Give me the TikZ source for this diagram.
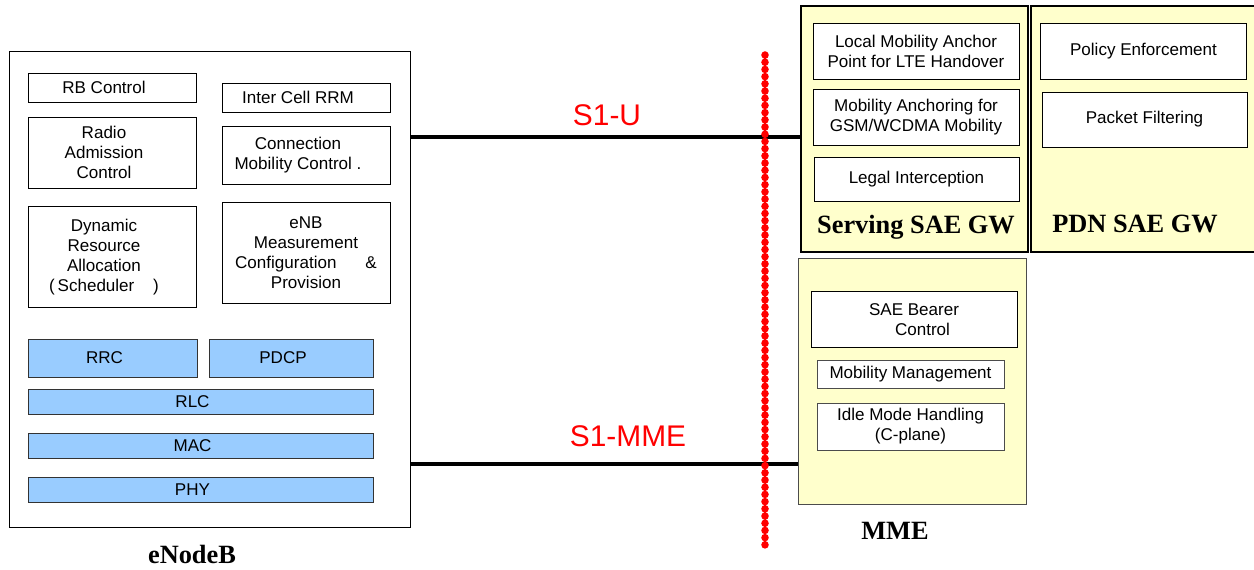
\documentclass[tikz,border=0pt]{standalone}
\usepackage{fontspec}
\setmainfont{Liberation Serif}
\setsansfont{Liberation Sans}
\usepackage{xcolor}
\usepackage{tikz}
\usetikzlibrary{positioning, calc}
\definecolor{gwyellow}{HTML}{FFFFCC}
\definecolor{layerblue}{HTML}{99CCFF}

\begin{document}
\begin{tikzpicture}[
  x=0.02cm, y=-0.02cm,
  fbox/.style ={draw, fill=white, inner sep=1pt, align=center,
                font=\sffamily\fontsize{9.7}{11.3}\selectfont},
  etext/.style={xshift=-0.16cm, inner sep=0pt, align=center,
                font=\sffamily\fontsize{9.7}{11.3}\selectfont},
  ebox/.style ={draw, fill=white, label={[etext]center:#1}},
  lbox/.style ={draw=black!80, fill=layerblue, minimum height=0.5cm, label={[etext]center:#1}},
  gw/.style   ={draw, line width=1.2pt, fill=gwyellow, minimum width=4.54cm, minimum height=4.92cm},
  title/.style={anchor=base, font=\bfseries\fontsize{15}{18}\selectfont},
  iface/.style={anchor=base, text=red, font=\sffamily\fontsize{17}{20}\selectfont},
  link/.style ={line width=1.8pt}
]
\useasboundingbox (0,0) rectangle (1254,569);

%% ---- eNodeB ----
\node[draw, fill=white, minimum width=8.02cm, minimum height=9.52cm] (ENB) at (209.5,289) {};
\node[ebox={RB Control},     minimum width=3.36cm, minimum height=0.58cm] (RB)   at (112,87.5)  {};
\node[ebox={Inter Cell RRM}, minimum width=3.36cm, minimum height=0.58cm] (ICR)  at (306,97.5)  {};
\node[ebox={Radio\\Admission\\Control},         minimum width=3.36cm, minimum height=1.42cm] (RAC) at (112,152.5) {};
\node[ebox={Connection\\Mobility Control .},    minimum width=3.36cm, minimum height=1.16cm] (CMC) at (306,155)   {};
\node[ebox={Dynamic\\Resource\\Allocation\\(\,Scheduler\hspace{1.1em})},
      minimum width=3.36cm, minimum height=2.02cm] (DRA)  at (112,257)   {};
\node[fbox, minimum width=3.36cm, minimum height=2.02cm] (MEAS) at (306,252.5)
      {eNB\\Measurement\\Configuration\hspace{1.7em}\&\\Provision};

% protocol stack
\node[lbox=RRC,  minimum width=3.38cm, minimum height=0.76cm] (RRC)  at (112.5,358) {};
\node[lbox=PDCP, minimum width=3.28cm, minimum height=0.76cm] (PDCP) at (291,358)   {};
\node[lbox=RLC, minimum width=6.9cm] (RLC) at (200.5,401.5) {};
\node[lbox=MAC, minimum width=6.9cm] (MAC) at (200.5,445.5) {};
\node[lbox=PHY, minimum width=6.9cm] (PHY) at (200.5,489.5) {};

\node[title] at (192,563) {eNodeB};

%% ---- Gateways ----
\node[gw] (SGW) at (914.5,129) {};
\node[gw, minimum width=4.54cm] (PGW) at (1144.5,129) {};

\node[fbox, minimum width=4.12cm, minimum height=1.12cm] (LMA) at (916,51)    {Local Mobility Anchor\\Point for LTE Handover};
\node[fbox, minimum width=4.12cm, minimum height=1.12cm] (MAG) at (916,117)   {Mobility Anchoring for\\GSM/WCDMA Mobility};
\node[fbox, minimum width=4.10cm, minimum height=0.88cm] (LI)  at (916.5,179) {Legal Interception};
\node[title] at (916,233) {Serving SAE GW};

\node[fbox, minimum width=4.12cm, minimum height=1.12cm] (PE) at (1143.5,51)   {Policy Enforcement};
\node[fbox, minimum width=4.10cm, minimum height=1.10cm] (PF) at (1144.5,119.5) {Packet Filtering};
\node[title] at (1135,232) {PDN SAE GW};

%% ---- MME ----
\node[draw=black!70, fill=gwyellow, minimum width=4.56cm, minimum height=4.92cm] (MME) at (912,381) {};
\node[fbox, minimum width=4.12cm, minimum height=1.12cm] (SBC) at (914,319.5)   {SAE Bearer\\\hspace{1em}Control};
\node[fbox, draw=black!70, minimum width=3.74cm, minimum height=0.56cm] (MM)  at (910.5,374.5) {Mobility Management};
\node[fbox, draw=black!70, minimum width=3.74cm, minimum height=0.94cm] (IMH) at (910.5,426.5) {Idle Mode Handling\\(C-plane)};
\node[title] at (895,539) {MME};

%% ---- interfaces ----
\coordinate (s1u)  at (607,137);
\coordinate (s1m)  at (628,464);
\draw[link] (ENB.east |- s1u) -- (SGW.west |- s1u);
\draw[link] (ENB.east |- s1m) -- (MME.west |- s1m);
\node[iface] at (607,125) {S1-U};
\node[iface] at (628,446) {S1-MME};

%% separator
\coordinate (sepTop) at (765,55);
\coordinate (sepBot) at (765,546);
\draw[red, line width=4.3pt, line cap=round, dash pattern=on 0pt off 4.1pt] (sepTop) -- (sepBot);

\end{tikzpicture}
\end{document}
